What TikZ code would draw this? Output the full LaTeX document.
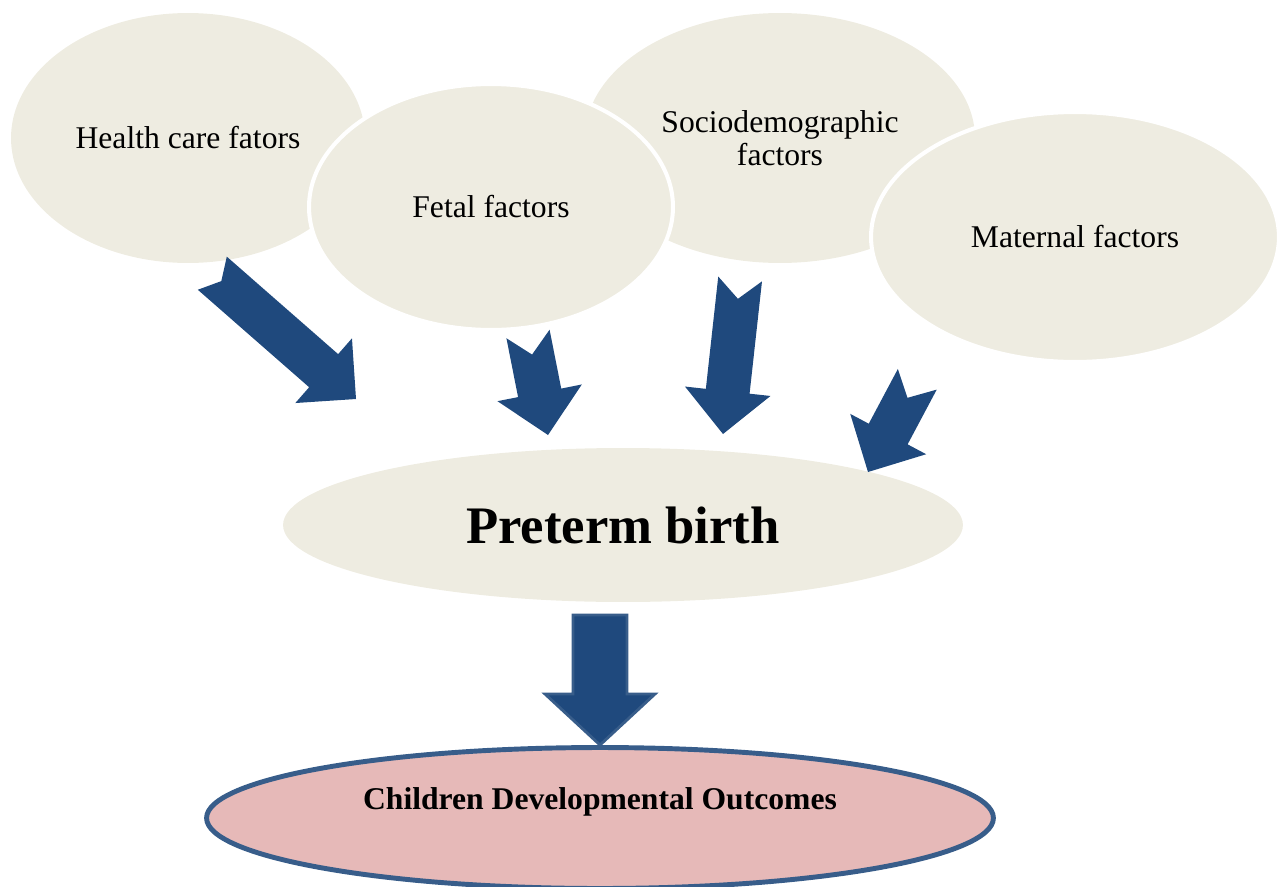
\documentclass[tikz,border=0pt]{standalone}
\usepackage{fontspec}
\setmainfont{Liberation Serif}
\usepackage{tikz}
\usetikzlibrary{shapes.geometric}
\definecolor{factorfill}{HTML}{EEECE1}
\definecolor{arrowblue}{HTML}{1F497D}
\definecolor{arrowedge}{HTML}{385D8A}
\definecolor{outcomefill}{HTML}{E6B9B8}
\tikzset{
  pics/notcharrow/.style 2 args={code={
    \fill[arrowblue] (0,0) -- (-43,43) -- (-43,22) -- (-#1,22) -- (-#1+#2,0) -- (-#1,-22) -- (-43,-22) -- (-43,-43) -- cycle;
  }}
}

\begin{document}
\begin{tikzpicture}[x=0.02cm,y=-0.02cm,
  factor/.style={ellipse,fill=factorfill,inner sep=0pt,font=\fontsize{18}{18.7}\selectfont,align=center},
  ringed/.style={draw=white,line width=2.3pt}]
\useasboundingbox (0,0) rectangle (1285,886);
\node[factor,minimum width=7.08cm,minimum height=5cm] (health) at (188,138) {Health care fators};
\node[factor,minimum width=7.8cm,minimum height=5cm] (socio) at (780,138) {Sociodemographic\\factors};
\node[factor,ringed,minimum width=7.28cm,minimum height=4.92cm] (fetal) at (491,207) {Fetal factors};
\node[factor,ringed,minimum width=8.16cm,minimum height=5cm] (maternal) at (1075,237) {Maternal factors};
\node[ellipse,fill=factorfill,minimum width=13.6cm,minimum height=3.08cm,font=\bfseries\fontsize{30}{36}\selectfont] (preterm) at (623,525) {Preterm birth};
\node[ellipse,fill=outcomefill,draw=arrowedge,line width=2.8pt,minimum width=15.74cm,minimum height=2.82cm] (outcome) at (600,818) {};
\node[font=\bfseries\fontsize{18}{21}\selectfont] (outtext) at ([yshift=9pt]outcome.center) {Children Developmental Outcomes};
% factor arrows
\pic[rotate=-41.2] at (356,399) {notcharrow={191}{12}};
\pic[rotate=-78.8] at (548,435) {notcharrow={103}{21}};
\pic[rotate=-96.3] at (723,434) {notcharrow={156}{20}};
\pic[rotate=-118] at (868,472) {notcharrow={105}{21}};
% down arrow
\draw[fill=arrowblue,draw=arrowedge,line width=1.6pt,line join=miter] (573,615) -- (627,615) -- (627,694) -- (655,694) -- (600,745) -- (545,694) -- (573,694) -- cycle;
\end{tikzpicture}
\end{document}
